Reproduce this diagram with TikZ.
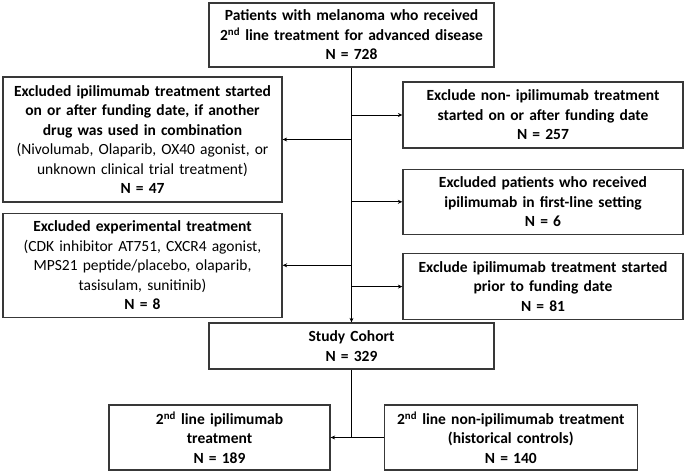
\documentclass[tikz,border=0pt]{standalone}
\usepackage{fontspec}
\setmainfont{Carlito}
\usetikzlibrary{positioning,arrows.meta}

\begin{document}
\begin{tikzpicture}
                    [x=1pt, y=-1pt,
                    box/.style={rectangle,
                        draw=black!78, line width=1.3pt,
                        align=center, inner sep=0pt,
                        font=\fontsize{15.5pt}{19.5pt}\selectfont},
                    mid/.style={box, text width=285pt},
                    excl/.style={box, text width=279pt},
                    arm/.style={box, minimum height=65pt},
                    flow/.style={line width=0.9pt,
                        -{Stealth[length=4.5pt,width=4pt]}},
                    node distance=10pt]

                    \useasboundingbox (0,0) rectangle (685,473);

                    \node[mid, minimum height=64pt] (pat) at (351.5,35)
                        {\textbf{Patients with melanoma who received}\\
                         \textbf{2\textsuperscript{nd} line treatment for advanced disease}\\
                         \textbf{N = 728}};
                    \node[excl, minimum height=125pt] (exA) at (142.5,139.5)
                        {\textbf{Excluded ipilimumab treatment started}\\
                         \textbf{on or after funding date, if another}\\
                         \textbf{drug was used in combination}\\
                         (Nivolumab, Olaparib, OX40 agonist, or\\
                         unknown clinical trial treatment)\\
                         \textbf{N = 47}};
                    \node[excl, minimum height=104pt, below=of exA] (exB)
                        {\textbf{Excluded experimental treatment}\\
                         (CDK inhibitor AT751, CXCR4 agonist,\\
                         MPS21 peptide/placebo, olaparib,\\
                         tasisulam, sunitinib)\\
                         \textbf{N = 8}};
                    \node[excl, text width=280pt, minimum height=66pt] (exC) at (543,115)
                        {\textbf{Exclude non- ipilimumab treatment}\\
                         \textbf{started on or after funding date}\\
                         \textbf{N = 257}};
                    \node[excl, text width=280pt, minimum height=65pt, below=20pt of exC] (exD)
                        {\textbf{Excluded patients who received}\\
                         \textbf{ipilimumab in first-line setting}\\
                         \textbf{N = 6}};
                    \node[excl, text width=280pt, minimum height=66pt, below=18pt of exD] (exE)
                        {\textbf{Exclude ipilimumab treatment started}\\
                         \textbf{prior to funding date}\\
                         \textbf{N = 81}};
                    \node[mid, minimum height=46pt] (coh) at (351.5,346)
                        {\textbf{Study Cohort}\\
                         \textbf{N = 329}};
                    \node[arm, text width=221pt] (ipi) at (219.5,437.5)
                        {\textbf{2\textsuperscript{nd} line ipilimumab}\\
                         \textbf{treatment}\\
                         \textbf{N = 189}};
                    \node[arm, text width=253pt, right=53pt of ipi] (hist)
                        {\textbf{2\textsuperscript{nd} line non-ipilimumab treatment}\\
                         \textbf{(historical controls)}\\
                         \textbf{N = 140}};

                    \draw[flow] (pat.south) -- (coh.north);
                    \draw[flow] (pat.south |- exA.east) -- (exA.east);
                    \draw[flow] (pat.south |- exB.east) -- (exB.east);
                    \draw[flow] (pat.south |- exC.west) -- (exC.west);
                    \draw[flow] (pat.south |- exD.west) -- (exD.west);
                    \draw[flow] (pat.south |- exE.west) -- (exE.west);
                    \draw[line width=0.9pt] (coh.south) -- (coh.south |- ipi.east);
                    \draw[flow, {Stealth[length=4.5pt,width=4pt]}-] (ipi.east) -- (hist.west);
                \end{tikzpicture}
\end{document}
